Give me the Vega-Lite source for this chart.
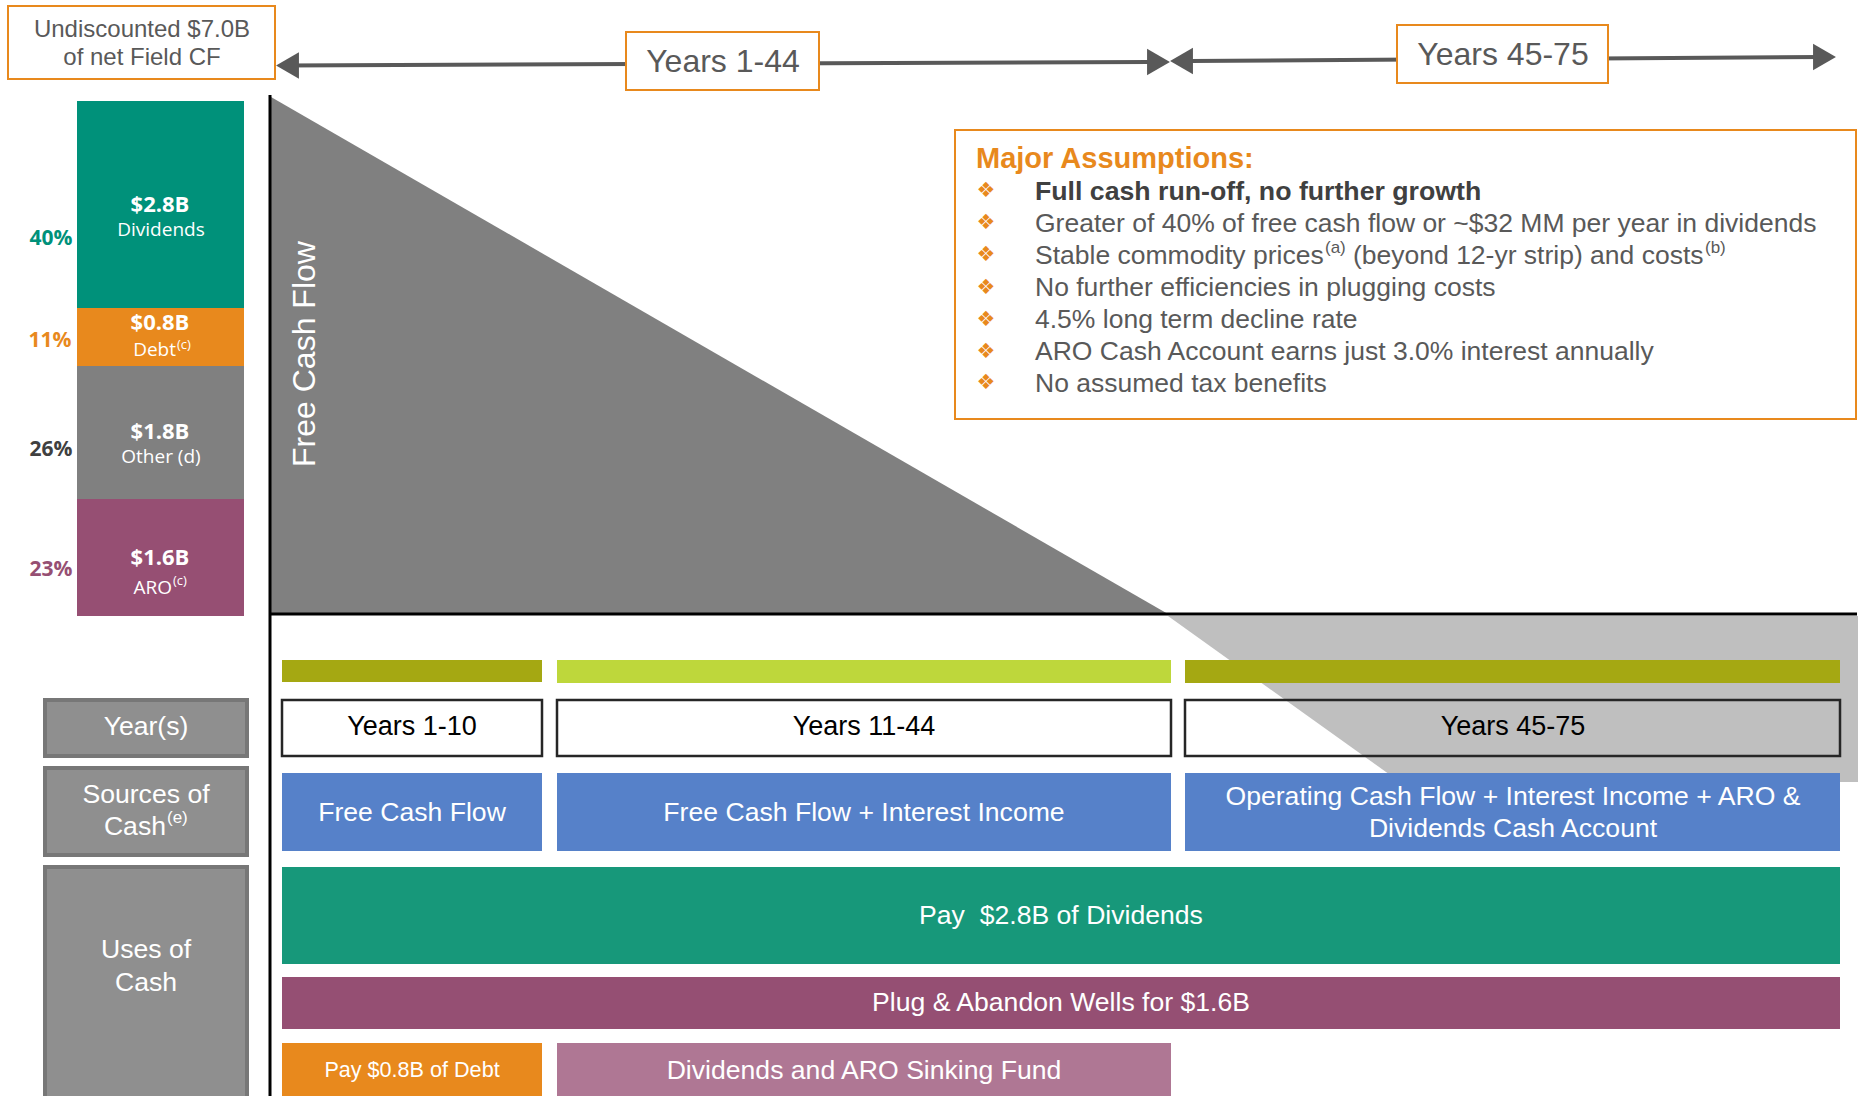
{
  "$schema": "https://vega.github.io/schema/vega-lite/v6.json",
  "width": 1860,
  "height": 1096,
  "padding": 0,
  "autosize": {"type": "none"},
  "background": "white",
  "config": {"view": {"stroke": null}},
  "datasets": {
    "shapes": [
      {"shape": "fcf", "x": 271, "y": 97, "y2": 614},
      {"shape": "fcf", "x": 1168, "y": 614, "y2": 614},
      {"shape": "tail", "x": 1168, "y": 616, "y2": 616},
      {"shape": "tail", "x": 1400, "y": 616, "y2": 782},
      {"shape": "tail", "x": 1858, "y": 616, "y2": 782}
    ],
    "funding": [
      {"part": "Dividends", "value": 2.8, "x": 77, "x2": 244, "y": 101, "y2": 308},
      {"part": "Debt", "value": 0.8, "x": 77, "x2": 244, "y": 308, "y2": 366},
      {"part": "Other", "value": 1.8, "x": 77, "x2": 244, "y": 366, "y2": 499},
      {"part": "ARO", "value": 1.6, "x": 77, "x2": 244, "y": 499, "y2": 616}
    ],
    "pct": [
      {"part": "Dividends", "text": "40%", "x": 51, "y": 239},
      {"part": "Debt", "text": "11%", "x": 50, "y": 341},
      {"part": "Other", "text": "26%", "x": 51, "y": 450},
      {"part": "ARO", "text": "23%", "x": 51, "y": 570}
    ],
    "barValue": [
      {"text": "$2.8B", "x": 160, "y": 205},
      {"text": "$0.8B", "x": 160, "y": 323},
      {"text": "$1.8B", "x": 160, "y": 432},
      {"text": "$1.6B", "x": 160, "y": 558}
    ],
    "barName": [
      {"text": "Dividends", "x": 161, "y": 230},
      {"text": "Other (d)", "x": 161, "y": 457}
    ],
    "barNameRight": [
      {"text": "Debt", "x": 176, "y": 350},
      {"text": "ARO", "x": 172, "y": 588}
    ],
    "barSup": [
      {"text": "(c)", "x": 177, "y": 345},
      {"text": "(c)", "x": 173, "y": 581}
    ],
    "blocks": [
      {"kind": "olive", "x": 282, "x2": 542, "y": 660, "y2": 682},
      {"kind": "lime", "x": 557, "x2": 1171, "y": 660, "y2": 683},
      {"kind": "olive", "x": 1185, "x2": 1840, "y": 660, "y2": 683},
      {"kind": "source", "x": 282, "x2": 542, "y": 773, "y2": 851},
      {"kind": "source", "x": 557, "x2": 1171, "y": 773, "y2": 851},
      {"kind": "source", "x": 1185, "x2": 1840, "y": 773, "y2": 851},
      {"kind": "dividends", "x": 282, "x2": 1840, "y": 867, "y2": 964},
      {"kind": "plug", "x": 282, "x2": 1840, "y": 977, "y2": 1029},
      {"kind": "debt", "x": 282, "x2": 542, "y": 1043, "y2": 1096},
      {"kind": "sinking", "x": 557, "x2": 1171, "y": 1043, "y2": 1096}
    ],
    "yearBoxes": [
      {"x": 282, "x2": 542, "y": 700, "y2": 756},
      {"x": 557, "x2": 1171, "y": 700, "y2": 756},
      {"x": 1185, "x2": 1840, "y": 700, "y2": 756}
    ],
    "rowHeads": [
      {"x": 45, "x2": 247, "y": 700, "y2": 756},
      {"x": 45, "x2": 247, "y": 768, "y2": 855},
      {"x": 45, "x2": 247, "y": 867, "y2": 1100}
    ],
    "callouts": [
      {"x": 8, "x2": 275, "y": 6, "y2": 79},
      {"x": 626, "x2": 819, "y": 32, "y2": 90},
      {"x": 1397, "x2": 1608, "y": 25, "y2": 83},
      {"x": 955, "x2": 1856, "y": 130, "y2": 419}
    ],
    "axes": [
      {"x": 270, "y": 95, "x2": 270, "y2": 1096},
      {"x": 269, "y": 614, "x2": 1857, "y2": 614}
    ],
    "arrows": [
      {"x": 285, "y": 65.5, "x2": 1150, "y2": 62},
      {"x": 1190, "y": 61, "x2": 1820, "y2": 57}
    ],
    "heads": [
      {"dir": "left", "x": 287.5, "y": 65.5},
      {"dir": "right", "x": 1158.5, "y": 62},
      {"dir": "left", "x": 1181.5, "y": 61},
      {"dir": "right", "x": 1824.5, "y": 57}
    ],
    "calloutText": [
      {"text": "Undiscounted $7.0B", "x": 142, "y": 30},
      {"text": "of net Field CF", "x": 142, "y": 58}
    ],
    "periodText": [
      {"text": "Years 1-44", "x": 723, "y": 62},
      {"text": "Years 45-75", "x": 1503, "y": 55}
    ],
    "assumptionTitle": [
      {"text": "Major Assumptions:", "x": 976, "y": 159}
    ],
    "bullets": [
      {"x": 986, "y": 191}, {"x": 986, "y": 223}, {"x": 986, "y": 255},
      {"x": 986, "y": 288}, {"x": 986, "y": 320}, {"x": 986, "y": 352},
      {"x": 986, "y": 383}
    ],
    "assumptions": [
      {"rank": 1, "text": "Full cash run-off, no further growth", "x": 1035, "y": 192},
      {"rank": 2, "text": "Greater of 40% of free cash flow or ~$32 MM per year in dividends", "x": 1035, "y": 224},
      {"rank": 3, "text": "Stable commodity prices", "x": 1035, "y": 256},
      {"rank": 3, "text": "(beyond 12-yr strip) and costs", "x": 1353, "y": 256},
      {"rank": 4, "text": "No further efficiencies in plugging costs", "x": 1035, "y": 288},
      {"rank": 5, "text": "4.5% long term decline rate", "x": 1035, "y": 320},
      {"rank": 6, "text": "ARO Cash Account earns just 3.0% interest annually", "x": 1035, "y": 352},
      {"rank": 7, "text": "No assumed tax benefits", "x": 1035, "y": 384}
    ],
    "assumptionSup": [
      {"text": "(a)", "x": 1325, "y": 248},
      {"text": "(b)", "x": 1705, "y": 248}
    ],
    "fcfText": [
      {"text": "Free Cash Flow", "x": 305, "y": 354}
    ],
    "headText": [
      {"text": "Year(s)", "x": 146, "y": 727},
      {"text": "Sources of", "x": 146, "y": 795},
      {"text": "Uses of", "x": 146, "y": 950},
      {"text": "Cash", "x": 146, "y": 983}
    ],
    "headTextRight": [
      {"text": "Cash", "x": 166, "y": 827}
    ],
    "headSup": [
      {"text": "(e)", "x": 167, "y": 818}
    ],
    "whiteText": [
      {"text": "Free Cash Flow", "x": 412, "y": 813},
      {"text": "Free Cash Flow + Interest Income", "x": 864, "y": 813},
      {"text": "Operating Cash Flow + Interest Income + ARO &", "x": 1513, "y": 797},
      {"text": "Dividends Cash Account", "x": 1513, "y": 829},
      {"text": "Pay \u00a0$2.8B of Dividends", "x": 1061, "y": 916},
      {"text": "Plug & Abandon Wells for $1.6B", "x": 1061, "y": 1003},
      {"text": "Dividends and ARO Sinking Fund", "x": 864, "y": 1071}
    ],
    "debtText": [
      {"text": "Pay $0.8B of Debt", "x": 412, "y": 1071}
    ],
    "yearText": [
      {"text": "Years 1-10", "x": 412, "y": 727},
      {"text": "Years 11-44", "x": 864, "y": 727},
      {"text": "Years 45-75", "x": 1513, "y": 727}
    ]
  },
  "encoding": {
    "x": {"field": "x", "type": "quantitative", "scale": {"domain": [0, 1860], "nice": false, "zero": false}, "axis": null},
    "y": {"field": "y", "type": "quantitative", "stack": null, "scale": {"domain": [0, 1096], "nice": false, "zero": false, "reverse": true}, "axis": null}
  },
  "layer": [
    {
      "data": {"name": "shapes"},
      "mark": {"type": "area", "opacity": 1, "interpolate": "linear"},
      "encoding": {
        "y2": {"field": "y2"},
        "color": {"field": "shape", "type": "nominal", "legend": null, "scale": {"domain": ["fcf", "tail"], "range": ["#808080", "#BFBFBF"]}}
      }
    },
    {
      "data": {"name": "funding"},
      "mark": {"type": "rect"},
      "encoding": {
        "x2": {"field": "x2"},
        "y2": {"field": "y2"},
        "color": {"field": "part", "type": "nominal", "legend": null, "scale": {"domain": ["Dividends", "Debt", "Other", "ARO"], "range": ["#00917A", "#E8891D", "#808080", "#964F73"]}}
      }
    },
    {
      "data": {"name": "blocks"},
      "mark": {"type": "rect"},
      "encoding": {
        "x2": {"field": "x2"},
        "y2": {"field": "y2"},
        "color": {"field": "kind", "type": "nominal", "legend": null, "scale": {"domain": ["olive", "lime", "source", "dividends", "plug", "debt", "sinking"], "range": ["#A5A812", "#BED73B", "#5681C9", "#17987A", "#954F73", "#E8891D", "#AF7794"]}}
      }
    },
    {
      "data": {"name": "yearBoxes"},
      "mark": {"type": "rect", "filled": false, "color": "#262626", "strokeWidth": 2.5},
      "encoding": {"x2": {"field": "x2"}, "y2": {"field": "y2"}}
    },
    {
      "data": {"name": "rowHeads"},
      "mark": {"type": "rect", "fill": "#8F8F8F", "stroke": "#777777", "strokeWidth": 4},
      "encoding": {"x2": {"field": "x2"}, "y2": {"field": "y2"}}
    },
    {
      "data": {"name": "axes"},
      "mark": {"type": "rule", "color": "#000000", "strokeWidth": 3},
      "encoding": {"x2": {"field": "x2"}, "y2": {"field": "y2"}}
    },
    {
      "data": {"name": "arrows"},
      "mark": {"type": "rule", "color": "#595959", "strokeWidth": 4},
      "encoding": {"x2": {"field": "x2"}, "y2": {"field": "y2"}}
    },
    {
      "data": {"name": "heads"},
      "mark": {"type": "point", "filled": true, "opacity": 1, "size": 700, "color": "#595959", "strokeWidth": 0},
      "encoding": {
        "shape": {"field": "dir", "type": "nominal", "legend": null, "scale": {"domain": ["left", "right"], "range": ["triangle-left", "triangle-right"]}}
      }
    },
    {
      "data": {"name": "callouts"},
      "mark": {"type": "rect", "fill": "#FFFFFF", "stroke": "#E8891D", "strokeWidth": 2},
      "encoding": {"x2": {"field": "x2"}, "y2": {"field": "y2"}}
    },
    {
      "data": {"name": "calloutText"},
      "mark": {"type": "text", "font": "Liberation Sans", "fontSize": 24, "color": "#595959", "baseline": "middle"},
      "encoding": {"text": {"field": "text", "type": "nominal"}}
    },
    {
      "data": {"name": "periodText"},
      "mark": {"type": "text", "font": "Liberation Sans", "fontSize": 32, "color": "#595959", "baseline": "middle"},
      "encoding": {"text": {"field": "text", "type": "nominal"}}
    },
    {
      "data": {"name": "assumptionTitle"},
      "mark": {"type": "text", "font": "Liberation Sans", "fontSize": 29, "fontWeight": "bold", "color": "#E8891D", "align": "left", "baseline": "middle"},
      "encoding": {"text": {"field": "text", "type": "nominal"}}
    },
    {
      "data": {"name": "bullets"},
      "mark": {"type": "text", "font": "DejaVu Sans", "fontSize": 21, "color": "#E8891D", "text": "❖", "baseline": "middle"},
      "encoding": {}
    },
    {
      "data": {"name": "assumptions"},
      "transform": [{"filter": "datum.rank == 1"}],
      "mark": {"type": "text", "font": "Liberation Sans", "fontSize": 26.7, "fontWeight": "bold", "color": "#404040", "align": "left", "baseline": "middle"},
      "encoding": {"text": {"field": "text", "type": "nominal"}}
    },
    {
      "data": {"name": "assumptions"},
      "transform": [{"filter": "datum.rank > 1"}],
      "mark": {"type": "text", "font": "Liberation Sans", "fontSize": 26.5, "color": "#595959", "align": "left", "baseline": "middle"},
      "encoding": {"text": {"field": "text", "type": "nominal"}}
    },
    {
      "data": {"name": "assumptionSup"},
      "mark": {"type": "text", "font": "Liberation Sans", "fontSize": 17, "color": "#595959", "align": "left", "baseline": "middle"},
      "encoding": {"text": {"field": "text", "type": "nominal"}}
    },
    {
      "data": {"name": "pct"},
      "mark": {"type": "text", "font": "Open Sans", "fontSize": 21, "fontWeight": "bold", "baseline": "middle"},
      "encoding": {
        "text": {"field": "text", "type": "nominal"},
        "color": {"field": "part", "type": "nominal", "legend": null, "scale": {"domain": ["Dividends", "Debt", "Other", "ARO"], "range": ["#00917A", "#E8891D", "#404040", "#964F73"]}}
      }
    },
    {
      "data": {"name": "barValue"},
      "mark": {"type": "text", "font": "Open Sans", "fontSize": 22, "fontWeight": "bold", "color": "#FFFFFF", "baseline": "middle"},
      "encoding": {"text": {"field": "text", "type": "nominal"}}
    },
    {
      "data": {"name": "barName"},
      "mark": {"type": "text", "font": "Open Sans", "fontSize": 19, "color": "#FFFFFF", "baseline": "middle"},
      "encoding": {"text": {"field": "text", "type": "nominal"}}
    },
    {
      "data": {"name": "barNameRight"},
      "mark": {"type": "text", "font": "Open Sans", "fontSize": 19, "color": "#FFFFFF", "align": "right", "baseline": "middle"},
      "encoding": {"text": {"field": "text", "type": "nominal"}}
    },
    {
      "data": {"name": "barSup"},
      "mark": {"type": "text", "font": "Open Sans", "fontSize": 13, "color": "#FFFFFF", "align": "left", "baseline": "middle"},
      "encoding": {"text": {"field": "text", "type": "nominal"}}
    },
    {
      "data": {"name": "fcfText"},
      "mark": {"type": "text", "font": "Liberation Sans", "fontSize": 32, "color": "#FFFFFF", "angle": 270, "baseline": "middle"},
      "encoding": {"text": {"field": "text", "type": "nominal"}}
    },
    {
      "data": {"name": "headText"},
      "mark": {"type": "text", "font": "Liberation Sans", "fontSize": 26.6, "color": "#FFFFFF", "baseline": "middle"},
      "encoding": {"text": {"field": "text", "type": "nominal"}}
    },
    {
      "data": {"name": "headTextRight"},
      "mark": {"type": "text", "font": "Liberation Sans", "fontSize": 26.6, "color": "#FFFFFF", "align": "right", "baseline": "middle"},
      "encoding": {"text": {"field": "text", "type": "nominal"}}
    },
    {
      "data": {"name": "headSup"},
      "mark": {"type": "text", "font": "Liberation Sans", "fontSize": 17, "color": "#FFFFFF", "align": "left", "baseline": "middle"},
      "encoding": {"text": {"field": "text", "type": "nominal"}}
    },
    {
      "data": {"name": "whiteText"},
      "mark": {"type": "text", "font": "Liberation Sans", "fontSize": 26.6, "color": "#FFFFFF", "baseline": "middle"},
      "encoding": {"text": {"field": "text", "type": "nominal"}}
    },
    {
      "data": {"name": "debtText"},
      "mark": {"type": "text", "font": "Liberation Sans", "fontSize": 21.6, "color": "#FFFFFF", "baseline": "middle"},
      "encoding": {"text": {"field": "text", "type": "nominal"}}
    },
    {
      "data": {"name": "yearText"},
      "mark": {"type": "text", "font": "Liberation Sans", "fontSize": 27, "color": "#000000", "baseline": "middle"},
      "encoding": {"text": {"field": "text", "type": "nominal"}}
    }
  ],
  "resolve": {"scale": {"color": "independent", "shape": "independent"}}
}
